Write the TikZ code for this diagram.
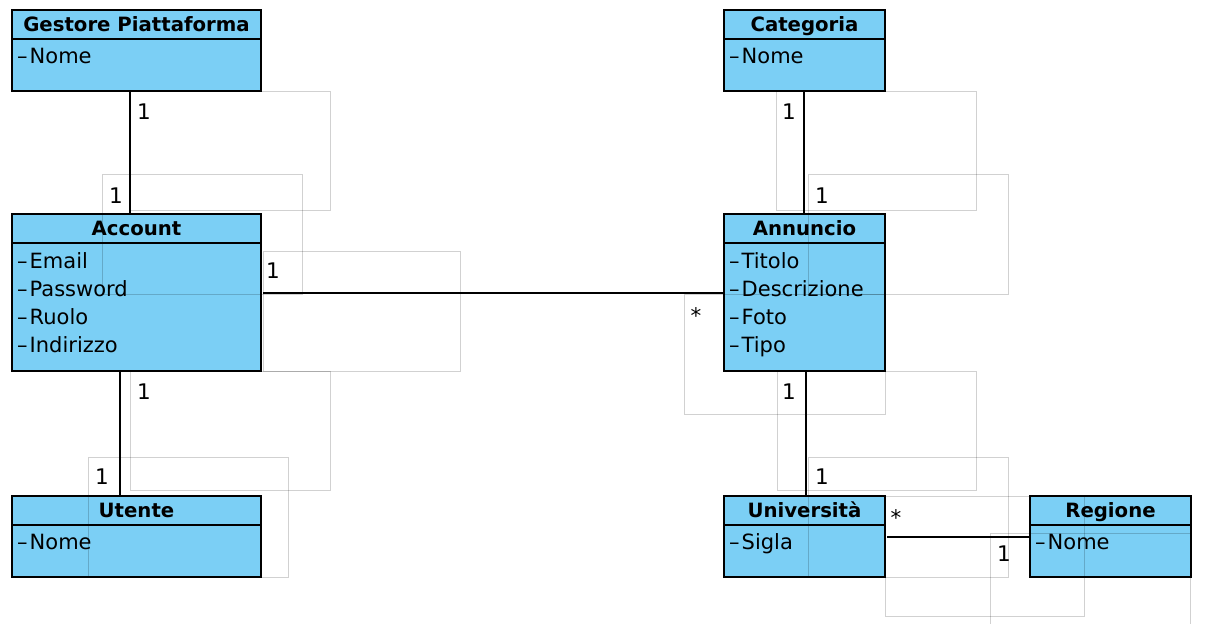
\documentclass[tikz,border=0pt]{standalone}
\usepackage{fontspec}
\setmainfont{DejaVu Sans}
\definecolor{umlfill}{RGB}{123,207,245}
\tikzset{
  classbox/.style={draw=black, line width=2pt, fill=umlfill, inner sep=0pt, outer sep=0pt, anchor=north west},
  ctitle/.style={font=\fontsize{19.7}{22}\selectfont\bfseries, inner sep=0pt, anchor=base},
  cattr/.style={font=\fontsize{21}{25}\selectfont, inner sep=0pt, anchor=base west},
  assoc/.style={draw=black, line width=2pt},
  mult/.style={font=\fontsize{21.5}{25}\selectfont, inner sep=0pt, anchor=base},
  ghost/.style={draw=black, draw opacity=0.18, line width=1pt},
}
\newcommand{\umlclass}[6]{%
  \node[classbox, minimum width=#4pt, minimum height=#5pt] (#1) at (#2,#3) {};
  \draw[line width=2pt] ([yshift=-29pt]#1.north west) -- ([yshift=-29pt]#1.north east);
  \node[ctitle] (#1-title) at ([yshift=-21pt]#1.north) {#6};
}
\newcommand{\attrdash}{–\kern2pt}
\begin{document}
\begin{tikzpicture}[x=1pt,y=-1pt]
\useasboundingbox[fill=white] (0,0) rectangle (1208,624);

% classes
\umlclass{gp}{12}{10}{249}{81}{Gestore Piattaforma}
\node[cattr] (gp-a1) at ([xshift=5pt,yshift=-53pt]gp.north west) {\attrdash Nome};

\umlclass{acc}{12}{214}{249}{157}{Account}
\node[cattr] (acc-a1) at ([xshift=5pt,yshift=-54pt]acc.north west) {\attrdash Email};
\node[cattr] (acc-a2) at ([xshift=5pt,yshift=-82pt]acc.north west) {\attrdash Password};
\node[cattr] (acc-a3) at ([xshift=5pt,yshift=-110pt]acc.north west) {\attrdash Ruolo};
\node[cattr] (acc-a4) at ([xshift=5pt,yshift=-138pt]acc.north west) {\attrdash Indirizzo};

\umlclass{ute}{12}{496}{249}{81}{Utente}
\node[cattr] (ute-a1) at ([xshift=5pt,yshift=-53pt]ute.north west) {\attrdash Nome};

\umlclass{cat}{724}{10}{161}{81}{Categoria}
\node[cattr] (cat-a1) at ([xshift=5pt,yshift=-53pt]cat.north west) {\attrdash Nome};

\umlclass{ann}{724}{214}{161}{157}{Annuncio}
\node[cattr] (ann-a1) at ([xshift=5pt,yshift=-54pt]ann.north west) {\attrdash Titolo};
\node[cattr] (ann-a2) at ([xshift=5pt,yshift=-82pt]ann.north west) {\attrdash Descrizione};
\node[cattr] (ann-a3) at ([xshift=5pt,yshift=-110pt]ann.north west) {\attrdash Foto};
\node[cattr] (ann-a4) at ([xshift=5pt,yshift=-138pt]ann.north west) {\attrdash Tipo};

\umlclass{uni}{724}{496}{161}{81}{Università}
\node[cattr] (uni-a1) at ([xshift=5pt,yshift=-53pt]uni.north west) {\attrdash Sigla};

\umlclass{reg}{1030}{496}{161}{81}{Regione}
\node[cattr] (reg-a1) at ([xshift=5pt,yshift=-53pt]reg.north west) {\attrdash Nome};

% associations
\draw[assoc] ([xshift=-6.5pt]gp.south) -- ([xshift=-6.5pt]acc.north);
\draw[assoc] ([xshift=-16.5pt]acc.south) -- ([xshift=-16.5pt]ute.north);
\draw[assoc] ([xshift=2pt]acc.east) -- (ann.west);
\draw[assoc] ([xshift=-0.5pt]cat.south) -- ([xshift=-0.5pt]ann.north);
\draw[assoc] ([xshift=1.5pt]ann.south) -- ([xshift=1.5pt]uni.north);
\draw[assoc] ([xshift=2pt]uni.east) -- (reg.west);

% faint label frames
\draw[ghost] (130,91) rectangle (330,210);
\draw[ghost] (102,174) rectangle (302,294);
\draw[ghost] (263,251) rectangle (460,371);
\draw[ghost] (684,294) rectangle (885,414);
\draw[ghost] (130,371) rectangle (330,490);
\draw[ghost] (88,457) rectangle (288,577);
\draw[ghost] (776,91) rectangle (976,210);
\draw[ghost] (808,174) rectangle (1008,294);
\draw[ghost] (777,371) rectangle (976,490);
\draw[ghost] (808,457) rectangle (1008,577);
\draw[ghost] (885,496) rectangle (1084,616);
\draw[ghost] (990,624) -- (990,533) -- (1190,533) -- (1190,624);

% multiplicities
\node[mult] (m1) at (144,119) {1};
\node[mult] (m2) at (116,203) {1};
\node[mult] (m3) at (273,278) {1};
\node[mult] (m4) at (696,323) {*};
\node[mult] (m5) at (144,399) {1};
\node[mult] (m6) at (102,484) {1};
\node[mult] (m7) at (789,119) {1};
\node[mult] (m8) at (822,203) {1};
\node[mult] (m9) at (789,399) {1};
\node[mult] (m10) at (822,484) {1};
\node[mult] (m11) at (896,525) {*};
\node[mult] (m12) at (1004,561) {1};
\end{tikzpicture}
\end{document}
